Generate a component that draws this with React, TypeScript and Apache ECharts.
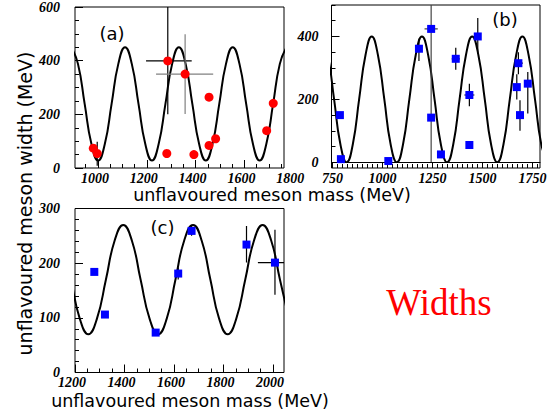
import React, { useEffect, useRef } from "react";
import * as echarts from "echarts";

// ---------- Panel (a) ----------
const curveA: number[][] = [
  [890.5, 450], [918.1, 388], [945.6, 239], [973.2, 90], [1000.8, 28], [1028.3, 90], [1055.9, 239], [1083.4, 388],
  [1111, 450], [1138.6, 388], [1166.1, 239], [1193.7, 90], [1221.3, 28], [1248.8, 90], [1276.4, 239], [1303.9, 388],
  [1331.5, 450], [1359.1, 388], [1386.6, 239], [1414.2, 90], [1441.8, 28], [1469.3, 90], [1496.9, 239], [1524.4, 388],
  [1552, 450], [1579.6, 388], [1607.1, 239], [1634.7, 90], [1662.3, 28], [1689.8, 90], [1717.4, 239], [1744.9, 388],
  [1772.5, 450],
];
const pointsA: number[][] = [
  [981, 74], [997, 54], [1286, 399], [1357, 350], [1455, 264], [1282, 54],
  [1393, 50], [1455, 84], [1482, 109], [1691, 139], [1718, 241],
];
// [x, y, xlo, xhi, ylo, yhi]
const errorsA: number[][] = [
  [981, 74, 981, 981, 64, 86],
  [997, 54, 997, 997, 8, 98],
  [1286, 399, 1197, 1384, 200, 600],
];
const errorsAGrey: number[][] = [
  [1357, 350, 1238, 1472, 201, 498],
];
const xLabelsA = [1000, 1200, 1400, 1600, 1800];
const yLabelsA = [0, 200, 400, 600];

// ---------- Panel (b) ----------
const curveB: number[][] = [
  [695, 400], [726, 341], [758, 200], [789, 59], [821, 0], [852, 59], [883, 200], [915, 341],
  [946, 400], [977, 341], [1009, 200], [1040, 59], [1072, 0], [1103, 59], [1134, 200], [1166, 341],
  [1197, 400], [1228, 341], [1260, 200], [1291, 59], [1323, 0], [1354, 59], [1385, 200], [1417, 341],
  [1448, 400], [1479, 341], [1511, 200], [1542, 59], [1574, 0], [1605, 59], [1636, 200], [1668, 341],
  [1699, 400], [1730, 341], [1762, 200], [1793, 59], [1825, 0],
];
const pointsB: number[][] = [
  [787, 150], [792, 10], [1029, 4], [1182, 361], [1243, 424], [1243, 142], [1292, 25],
  [1366, 329], [1434, 214], [1434, 55], [1476, 400], [1671, 239], [1679, 315], [1687, 150], [1726, 250],
];
const errorsB: number[][] = [
  [1182, 361, 1182, 1182, 322, 393],
  [1366, 329, 1346, 1386, 294, 364],
  [1434, 214, 1409, 1459, 178, 250],
  [1476, 400, 1476, 1476, 345, 459],
  [1671, 239, 1671, 1671, 200, 280],
  [1679, 315, 1657, 1701, 280, 350],
  [1687, 150, 1687, 1687, 100, 197],
  [1726, 250, 1726, 1726, 155, 287],
];
const errorsBGrey: number[][] = [
  [1243, 424, 1210, 1276, 0, 848],
];
const xLabelsB = [750, 1000, 1250, 1500, 1750];
const yLabelsB = [0, 200, 400];

// ---------- Panel (c) ----------
const curveC: number[][] = [
  [1149, 241], [1184, 170], [1219, 99], [1254, 70], [1289, 99], [1325, 170], [1360, 241],
  [1395, 270], [1430, 241], [1465, 170], [1501, 99], [1536, 70], [1571, 99], [1606, 170], [1641, 241],
  [1677, 270], [1712, 241], [1747, 170], [1782, 99], [1817, 70], [1852, 99], [1888, 170], [1923, 241],
  [1958, 270], [1993, 241], [2028, 170], [2064, 99],
];
const pointsC: number[][] = [
  [1278, 184], [1321, 106], [1526, 73], [1617, 181], [1671, 259], [1893, 234], [2008, 201],
];
const errorsC: number[][] = [
  [1617, 181, 1617, 1617, 170, 192],
  [1671, 259, 1671, 1671, 250, 268],
  [1893, 234, 1893, 1893, 201, 268],
  [2008, 201, 1939, 2080, 142, 261],
];
const xLabelsC = [1200, 1400, 1600, 1800, 2000];
const yLabelsC = [0, 100, 200, 300];

const xTitle = "unflavoured meson mass (MeV)";
const yTitle = "unflavoured meson width (MeV)";

// ---------- ranges ----------
const rangeAx = [906, 1762];
const rangeAy = [0, 600];
const rangeBx = [745, 1787];
const rangeBy = [0, 500];
const rangeCx = [1200, 2044.5];
const rangeCy = [0, 300];

function steps(a: number, b: number, s: number, lo: number, hi: number) {
  const out: number[] = [];
  for (let v = a; v <= b + 1e-9; v += s) if (v >= lo - 1e-9 && v <= hi + 1e-9) out.push(v);
  return out;
}

const labelFont = {
  fontFamily: '"Liberation Serif", serif',
  fontStyle: "italic" as const,
  fontWeight: "bold" as const,
  fontSize: 14,
  lineHeight: 12,
  color: "#000",
};

function baseAxis(grid: number, min: number, max: number, position: string) {
  return {
    type: "value",
    gridIndex: grid,
    min,
    max,
    position,
    splitLine: { show: false },
    axisLine: { show: false },
    axisTick: { show: false },
    axisLabel: { show: false },
  };
}
function tickAxis(grid: number, min: number, max: number, position: string, ticks: number[], len: number) {
  return {
    ...baseAxis(grid, min, max, position),
    axisTick: { show: true, inside: true, length: len, customValues: ticks, lineStyle: { color: "#000", width: 1 } },
  };
}
function withLabels(ax: any, labels: number[], margin: number, padding: number[] = [0, 0, 0, 0]) {
  return {
    ...ax,
    axisLabel: {
      show: true,
      customValues: labels,
      margin,
      padding,
      hideOverlap: false,
      formatter: (v: number) => String(v),
      ...labelFont,
    },
  };
}

function errSeries(data: number[][], xi: number, yi: number, color: string) {
  return {
    type: "custom",
    xAxisIndex: xi,
    yAxisIndex: yi,
    clip: true,
    z: 3,
    encode: { x: 0, y: 1 },
    data,
    renderItem: (_p: any, api: any) => {
      const x = api.value(0), y = api.value(1);
      const c = api.coord([x, y]);
      const l = api.coord([api.value(2), y]);
      const r = api.coord([api.value(3), y]);
      const b = api.coord([x, api.value(4)]);
      const t = api.coord([x, api.value(5)]);
      const st = { stroke: color, lineWidth: 1.2 };
      return {
        type: "group",
        children: [
          { type: "line", shape: { x1: l[0], y1: c[1], x2: r[0], y2: c[1] }, style: st },
          { type: "line", shape: { x1: c[0], y1: b[1], x2: c[0], y2: t[1] }, style: st },
        ],
      };
    },
  };
}
function curveSeries(data: number[][], xi: number, yi: number) {
  return {
    type: "line", xAxisIndex: xi, yAxisIndex: yi, data, smooth: 0.5, showSymbol: false, symbol: "none",
    clip: true, z: 2, lineStyle: { color: "#000", width: 2 }, silent: true,
  };
}
function pointSeries(data: number[][], xi: number, yi: number, symbol: string, size: number, color: string) {
  return {
    type: "scatter", xAxisIndex: xi, yAxisIndex: yi, data, symbol, symbolSize: size, clip: true, z: 4,
    itemStyle: { color, opacity: 1 },
  };
}

export default function App() {
  const ref = useRef<HTMLDivElement>(null);
  useEffect(() => {
    if (!ref.current) return;
    const chart = echarts.init(ref.current, undefined, { renderer: "svg" });
    const frame = { show: true, borderColor: "#000", borderWidth: 1, backgroundColor: "transparent" };
    const pxPerA = 209 / (rangeAx[1] - rangeAx[0]);
    const gridA = { left: 75, top: 5, width: 209, height: 163 };
    const gridALab = { left: 75, top: 5, width: (1800 - rangeAx[0]) * pxPerA, height: 163, show: false };
    const gridBFrame = { left: 331.5, top: 5, width: 208.5, height: 163 };
    const gridBData = { left: 331.5, top: 5, width: 208.5, height: 157.3, show: false };
    const gridC = { left: 75, top: 208.5, width: 209, height: 164 };
    const shiftLeft = [0, 6, 0, 0];

    const xAxis = [
      tickAxis(0, rangeAx[0], rangeAx[1], "bottom", steps(1000, 1800, 200, rangeAx[0], rangeAx[1]), 8),
      tickAxis(0, rangeAx[0], rangeAx[1], "bottom", steps(900, 1800, 50, rangeAx[0], rangeAx[1]), 4),
      withLabels(baseAxis(1, rangeAx[0], 1800, "bottom"), xLabelsA, 4, shiftLeft),
      withLabels(tickAxis(2, rangeBx[0], rangeBx[1], "bottom", steps(750, 1750, 250, rangeBx[0], rangeBx[1]), 6), xLabelsB, 4),
      tickAxis(2, rangeBx[0], rangeBx[1], "bottom", steps(750, 1775, 25, rangeBx[0], rangeBx[1]), 4),
      { ...baseAxis(3, rangeBx[0], rangeBx[1], "bottom"), axisLine: { show: true, onZero: false, lineStyle: { color: "#000", width: 1 } } },
      withLabels(tickAxis(4, rangeCx[0], rangeCx[1], "bottom", steps(1200, 2000, 200, rangeCx[0], rangeCx[1]), 8), xLabelsC, 4, shiftLeft),
      tickAxis(4, rangeCx[0], rangeCx[1], "bottom", steps(1200, 2050, 50, rangeCx[0], rangeCx[1]), 4),
    ];
    const yAxis = [
      withLabels(tickAxis(0, rangeAy[0], rangeAy[1], "left", steps(0, 600, 200, 0, 600), 8), yLabelsA, 15),
      tickAxis(0, rangeAy[0], rangeAy[1], "left", steps(0, 600, 50, 0, 600), 4),
      baseAxis(1, rangeAy[0], rangeAy[1], "left"),
      baseAxis(2, 0, 1, "left"),
      withLabels(tickAxis(3, rangeBy[0], rangeBy[1], "left", steps(0, 400, 200, 0, 500), 8), yLabelsB, 13),
      tickAxis(3, rangeBy[0], rangeBy[1], "left", steps(0, 500, 50, 0, 500), 4),
      withLabels(tickAxis(4, rangeCy[0], rangeCy[1], "left", steps(0, 300, 100, 0, 300), 8), yLabelsC, 15),
      tickAxis(4, rangeCy[0], rangeCy[1], "left", steps(0, 300, 20, 0, 300), 4),
    ];

    const titleFont = '"DejaVu Sans", sans-serif';
    const txt = (text: string, x: number, y: number, size: number, extra: any = {}) => ({
      type: "text",
      x,
      y,
      rotation: extra.rotation || 0,
      style: {
        text,
        fontFamily: extra.family || titleFont,
        fontSize: size,
        lineHeight: Math.round(size),
        fill: extra.fill || "#000",
        textAlign: "center",
        textVerticalAlign: "middle",
        align: "center",
        verticalAlign: "middle",
      },
    });

    chart.setOption({
      animation: false,
      backgroundColor: "#fff",
      grid: [
        { ...gridA, ...frame },
        gridALab,
        { ...gridBFrame, ...frame },
        gridBData,
        { ...gridC, ...frame },
      ],
      xAxis,
      yAxis,
      series: [
        curveSeries(curveA, 0, 0),
        errSeries(errorsA, 0, 0, "#000"),
        errSeries(errorsAGrey, 0, 0, "#808080"),
        pointSeries(pointsA, 0, 0, "circle", 9, "#ff0000"),
        curveSeries(curveB, 5, 4),
        errSeries(errorsB, 5, 4, "#000"),
        errSeries(errorsBGrey, 5, 4, "#444"),
        pointSeries(pointsB, 5, 4, "rect", 8, "#0000ff"),
        curveSeries(curveC, 6, 6),
        errSeries(errorsC, 6, 6, "#000"),
        pointSeries(pointsC, 6, 6, "rect", 8, "#0000ff"),
      ],
      graphic: [
        txt(yTitle, 25, 203.5, 19, { rotation: Math.PI / 2 }),
        txt(xTitle, 272, 194.5, 17.5),
        txt(xTitle, 190, 400.5, 17.5),
        txt("(a)", 112, 33, 18),
        txt("(b)", 505, 19, 18),
        txt("(c)", 162.5, 227, 18),
        txt("Widths", 439, 302.5, 37, { family: '"Liberation Serif", serif', fill: "#ff0000" }),
      ],
    });
    return () => chart.dispose();
  }, []);
  return (
    <div
      ref={ref}
      style={{ position: "absolute", left: 0, top: 0, width: 558, height: 415, background: "#fff" }}
    />
  );
}
